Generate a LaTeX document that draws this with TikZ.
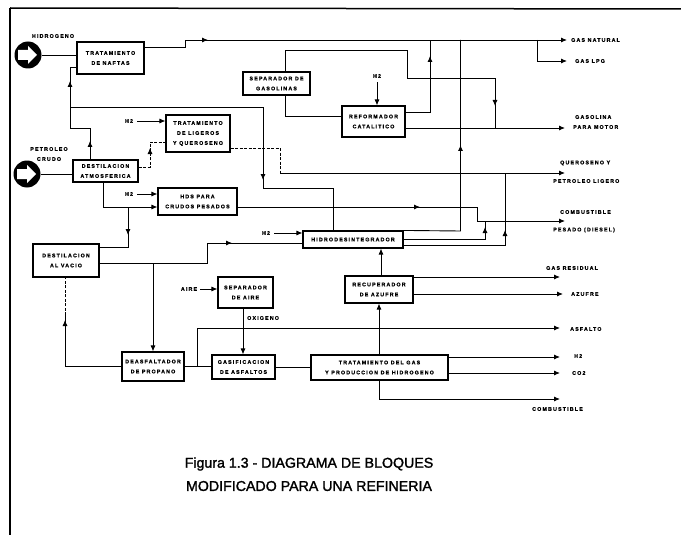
\documentclass[tikz,border=0pt]{standalone}
\usepackage{fontspec}
\setmainfont{Liberation Sans}
\newfontfamily\lblfam{Liberation Sans Bold}[LetterSpace=22,FakeBold=0.8]
\newfontfamily\capfam{Liberation Sans}[FakeBold=1.6]
\usetikzlibrary{arrows.meta}
\newcommand\lbl{\fontsize{5.3}{10}\selectfont\lblfam}
\newcommand\marrow[2]{\draw[arr] #1 ++(#2+180:6pt) -- ++(#2:6pt);}
\tikzset{
  box/.style={draw, line width=1.1pt, inner sep=0pt, align=center, font=\lbl},
  ln/.style={line width=0.9pt},
  arr/.style={ln,-{Latex[length=6pt,width=5pt]}},
  dsh/.style={line width=0.9pt,dash pattern=on 3pt off 1.5pt},
  lab/.style={font=\lbl, inner sep=0pt},
  labw/.style={font=\lbl, inner sep=0pt, anchor=west},
  inlet/.style={circle, fill=black, minimum size=27pt, inner sep=0pt},
}
\begin{document}
\begin{tikzpicture}[x=1pt,y=-1pt]
\useasboundingbox (0,0) rectangle (681,535);
% frame
\draw[line width=2pt] (10,8) -- (10,535);
\draw[line width=1.5pt] (10,8) -- (681,9);

% inlets
\node[inlet] (h2in) at (28,55) {};
\begin{scope}[shift={(h2in.center)}]
  \fill[white] (-10,-5) -- (0,-5) -- (0,-9) -- (9,0) -- (0,9) -- (0,5) -- (-10,5) -- cycle;
\end{scope}
\node[inlet] (crudo) at (27,174) {};
\begin{scope}[shift={(crudo.center)}]
  \fill[white] (-10,-5) -- (0,-5) -- (0,-9) -- (9,0) -- (0,9) -- (0,5) -- (-10,5) -- cycle;
\end{scope}
\node[lab] (lh2in) at (53,36) {HIDROGENO};
\node[lab, align=center] (lcrudo) at (49,154) {PETROLEO\\CRUDO};

% boxes
\node[box, minimum width=67pt, minimum height=32pt] (nafta) at (110.5,58) {TRATAMIENTO\\DE NAFTAS};
\node[box, minimum width=65pt, minimum height=22pt] (datm) at (105.5,171) {DESTILACION\\ATMOSFERICA};
\node[box, minimum width=64pt, minimum height=37pt] (lig) at (198,133.5) {TRATAMIENTO\\DE LIGEROS\\Y QUEROSENO};
\node[box, minimum width=79pt, minimum height=27pt] (hds) at (197.5,201.5) {HDS PARA\\CRUDOS PESADOS};
\node[box, minimum width=67pt, minimum height=23pt] (sepg) at (276.5,83.5) {SEPARADOR DE\\GASOLINAS};
\node[box, minimum width=63pt, minimum height=31pt] (ref) at (373.5,121.5) {REFORMADOR\\CATALITICO};
\node[box, minimum width=100pt, minimum height=17pt] (hidro) at (353,239.5) {HIDRODESINTEGRADOR};
\node[box, minimum width=66pt, minimum height=33pt] (vac) at (66,260.5) {DESTILACION\\AL VACIO};
\node[box, minimum width=55pt, minimum height=31pt] (saire) at (245.5,292.5) {SEPARADOR\\DE AIRE};
\node[box, minimum width=68pt, minimum height=27pt] (recup) at (379,289.5) {RECUPERADOR\\DE AZUFRE};
\node[box, minimum width=62pt, minimum height=29pt] (deasf) at (153,366.5) {DEASFALTADOR\\DE PROPANO};
\node[box, minimum width=63pt, minimum height=24pt] (gasif) at (243.5,367) {GASIFICACION\\DE ASFALTOS};
\node[box, minimum width=137pt, minimum height=25pt] (tratgas) at (379.5,367.5) {TRATAMIENTO DEL GAS\\Y PRODUCCION DE HIDROGENO};

% small input labels
\node[lab] (h2a) at (129,121) {H2};
\node[lab] (h2b) at (129,194) {H2};
\node[lab] (h2c) at (377,76) {H2};
\node[lab] (h2d) at (266,233) {H2};
\node[lab] (aire) at (189,289) {AIRE};
\node[labw] (oxi) at (247,318) {OXIGENO};

% output ends
\coordinate (oGN) at (567,40);
\coordinate (oLPG) at (567,61);
\coordinate (oGas) at (565,128);
\coordinate (oQ) at (565,173);
\coordinate (oCP) at (565,221);
\coordinate (oGR) at (560,277);
\coordinate (oAz) at (563,294);
\coordinate (oAsf) at (560,328);
\coordinate (oH2) at (560,357);
\coordinate (oCO2) at (560,373);
\coordinate (oComb) at (560,399);

% output labels
\node[labw] (lGN) at (571,40) {GAS NATURAL};
\node[labw] (lLPG) at (575,61) {GAS LPG};
\node[labw] (lGas1) at (575,117) {GASOLINA};
\node[labw] (lGas2) at (573,127) {PARA MOTOR};
\node[labw] (lQ1) at (560,163) {QUEROSENO Y};
\node[labw] (lQ2) at (553,181) {PETROLEO LIGERO};
\node[labw] (lCP1) at (560,212) {COMBUSTIBLE};
\node[labw] (lCP2) at (553,230) {PESADO (DIESEL)};
\node[labw] (lGR) at (546,268) {GAS RESIDUAL};
\node[labw] (lAz) at (571,294) {AZUFRE};
\node[labw] (lAsf) at (570,329) {ASFALTO};
\node[labw] (lH2) at (574,356) {H2};
\node[labw] (lCO2) at (572,373) {CO2};
\node[labw] (lComb) at (532,409) {COMBUSTIBLE};

% connectors
\draw[ln] (h2in.east) -- (h2in.east -| nafta.west);
\draw[arr] (nafta.east |- 0,47) -- (185,47) -- (185,40) -- (oGN);
\marrow{(208,40)}{0}
\draw[arr] (537,40) -- (537,61) -- (oLPG);
\draw[ln] (crudo.east) -- (crudo.east -| datm.west);
\draw[ln] (datm.north -| 90,0) -- (90,128) -- (70,128) -- (70,67) -- (nafta.west |- 0,67);
\marrow{(90,141)}{90}
\marrow{(70,81)}{90}
\draw[ln] (70,107) -- (263,107) -- (263,188) -- (333,188) -- (hidro.north -| 333,0);
\marrow{(263,180)}{-90}
\draw[dsh] (datm.east |- 0,167) -- (150,167) -- (150,142) -- (lig.west |- 0,142);
\marrow{(150,148)}{90}
\draw[arr, shorten <=4pt] (h2a.east) -- (lig.west |- h2a.east);
\draw[dsh] (lig.east |- 0,148) -- (280,148) -- (280,173);
\draw[arr] (280,173) -- (oQ);
\draw[arr] (datm.south -| 103,0) -- (103,207) -- (hds.west |- 0,207);
\draw[arr, shorten <=4pt] (h2b.east) -- (hds.west |- h2b.east);
\draw[ln] (128,207) -- (128,247) -- (vac.east |- 0,247);
\marrow{(128,235)}{-90}
\draw[arr] (hds.east |- 0,207) -- (477,207) -- (477,221) -- (oCP);
\marrow{(420,207)}{0}
\draw[ln] (sepg.north -| 285,0) -- (285,50) -- (407,50) -- (407,78) -- (495,78) -- (495,128);
\marrow{(495,106)}{-90}
\draw[ln] (sepg.south -| 285,0) -- (285,116) -- (ref.west |- 0,116);
\draw[arr, shorten <=4pt] (h2c.south) -- (ref.north -| h2c.south);
\draw[ln] (ref.east |- 0,112) -- (430,112) -- (430,40);
\marrow{(430,56)}{90}
\draw[arr] (ref.east |- 0,128) -- (oGas);
\draw[ln] (hidro.north east) -- (460.5,231) -- (460.5,40);
\marrow{(460.5,145)}{90}
\draw[ln] (hidro.east |- 0,239) -- (485,239) -- (485,221);
\marrow{(485,227)}{90}
\draw[ln] (hidro.east |- 0,245) -- (505,245) -- (505,173);
\marrow{(505,230)}{90}
\draw[ln] (vac.east |- 0,263) -- (207,263) -- (207,243) -- (hidro.west |- 0,243);
\marrow{(232,243)}{0}
\draw[arr, shorten <=4pt] (h2d.east) -- (hidro.west |- h2d.east);
\draw[arr] (153,263) -- (deasf.north);
\draw[ln] (deasf.west) -- (65,366.5) -- (65,315);
\draw[dsh] (65,315) -- (vac.south -| 65,0);
\marrow{(65,320)}{90}
\draw[ln] (deasf.east) -- (gasif.west |- deasf.east);
\draw[arr] (197,366.5) -- (197,328) -- (oAsf);
\draw[arr, shorten <=3pt] (aire.east) -- (saire.west |- aire.east);
\draw[arr] (saire.south -| 243,0) -- (gasif.north -| 243,0);
\draw[ln] (gasif.east) -- (tratgas.west |- gasif.east);
\draw[arr] (tratgas.north -| 379,0) -- (recup.south -| 379,0);
\draw[arr] (recup.north -| 381,0) -- (hidro.south -| 381,0);
\draw[arr] (recup.east |- 0,277) -- (oGR);
\draw[arr] (recup.east |- 0,294) -- (oAz);
\draw[arr] (tratgas.east |- 0,357) -- (oH2);
\draw[arr] (tratgas.east |- 0,373) -- (oCO2);
\draw[arr] (tratgas.south -| 379,0) -- (379,399) -- (oComb);

% caption
\node[font=\fontsize{14.2}{17}\selectfont\capfam] (cap1) at (309,464) {Figura 1.3 - DIAGRAMA DE BLOQUES};
\node[font=\fontsize{14.2}{17}\selectfont\capfam] (cap2) at (309,486) {MODIFICADO PARA UNA REFINERIA};
\end{tikzpicture}
\end{document}
